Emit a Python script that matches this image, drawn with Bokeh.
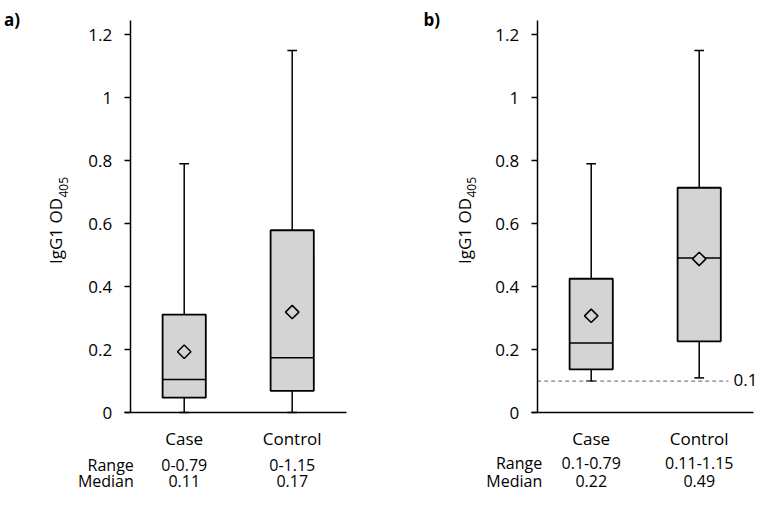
import math
from bokeh.plotting import figure
from bokeh.models import LinearAxis, FixedTicker, Range1d
from bokeh.core.properties import value
from bokeh.embed import file_html
from bokeh.resources import INLINE

# ---------------- data ----------------
categories = ["Case", "Control"]
y_ticks = [0, 0.2, 0.4, 0.6, 0.8, 1.0, 1.2]
y_tick_labels = ["0", "0.2", "0.4", "0.6", "0.8", "1", "1.2"]
row_names = ["Range", "Median"]

# panel a)
a_min = [0.0, 0.0]
a_q1 = [0.047, 0.069]
a_median = [0.105, 0.174]
a_q3 = [0.311, 0.579]
a_max = [0.79, 1.15]
a_mean = [0.193, 0.319]
a_range_text = ["0-0.79", "0-1.15"]
a_median_text = ["0.11", "0.17"]

# panel b)
b_min = [0.10, 0.11]
b_q1 = [0.137, 0.226]
b_median = [0.221, 0.491]
b_q3 = [0.425, 0.714]
b_max = [0.79, 1.15]
b_mean = [0.307, 0.488]
b_range_text = ["0.1-0.79", "0.11-1.15"]
b_median_text = ["0.22", "0.49"]
threshold = 0.1
threshold_label = "0.1"

y_label_main = "IgG1 OD"
y_label_sub = "405"

# ---------------- layout ----------------
W, H = 759, 492
UNIT = 108.0          # px per category slot
AXIS_A = 129.7        # px of panel a y-axis
AXIS_B = 536.7        # px of panel b y-axis
Y0 = 412.0            # px of value 0
YPX = 314.75          # px per unit value

def xd(px):
    return (px - AXIS_A) / UNIT

def yd(py):
    return (Y0 - py) / YPX

OFF_A = 0.0
OFF_B = xd(AXIS_B)

FONT = "Open Sans"
FS = "17px"
ROW_FS = "16px"
GRAY = "#d4d4d4"
BOX_W = 0.4
CAP = 0.045

p = figure(width=W, height=H,
           x_range=Range1d(xd(0), xd(W)),
           y_range=Range1d(yd(H), yd(0)),
           x_axis_type=None, y_axis_type=None,
           output_backend="svg", toolbar_location=None,
           min_border=0, outline_line_color=None)
p.background_fill_color = "white"
p.border_fill_color = "white"


def txt(x, y, t, align="left", size=FS, angle=0.0, style="normal"):
    p.text(x=x, y=y, text=t, angle=angle,
           text_align=align, text_baseline="middle",
           text_font=value(FONT), text_font_size=size, text_font_style=style,
           text_color="black")


def panel(off, mins, q1, med, q3, maxs, means, rng_txt, med_txt,
          row_right_px, range_c, median_c, ylab_x, ysub_x, letter, letter_x):
    xs = [off + i + 0.5 for i in range(len(categories))]
    # whiskers
    p.segment(x0=xs, y0=q3, x1=xs, y1=maxs, line_color="black", line_width=1.5)
    p.segment(x0=xs, y0=mins, x1=xs, y1=q1, line_color="black", line_width=1.5)
    p.segment(x0=[x - CAP for x in xs], y0=maxs, x1=[x + CAP for x in xs], y1=maxs,
              line_color="black", line_width=1.5)
    p.segment(x0=[x - CAP for x in xs], y0=mins, x1=[x + CAP for x in xs], y1=mins,
              line_color="black", line_width=1.5)
    # boxes
    p.vbar(x=xs, width=BOX_W, bottom=q1, top=q3, fill_color=GRAY,
           line_color="black", line_width=1.8)
    # median
    p.segment(x0=[x - BOX_W / 2 for x in xs], y0=med, x1=[x + BOX_W / 2 for x in xs], y1=med,
              line_color="black", line_width=1.5)
    # mean
    p.scatter(x=xs, y=means, marker="square", angle=math.pi / 4, size=9.5,
              fill_color=GRAY, line_color="black", line_width=1.5)

    # y axis
    yax = LinearAxis(fixed_location=off, bounds=(0, yd(20)),
                     ticker=FixedTicker(ticks=y_ticks),
                     major_label_overrides=dict(zip(y_ticks, y_tick_labels)),
                     major_tick_in=0, major_tick_out=6,
                     minor_tick_line_color=None,
                     major_label_standoff=12,
                     axis_line_width=1.5, major_tick_line_width=1.5,
                     axis_line_color="black", major_tick_line_color="black",
                     major_label_text_font=FONT, major_label_text_font_size=FS,
                     major_label_text_color="black")
    p.add_layout(yax, "left")

    # x axis
    xax = LinearAxis(fixed_location=0, bounds=(off - 0.055, off + 2.0),
                     ticker=FixedTicker(ticks=xs),
                     major_label_overrides=dict(zip(xs, categories)),
                     major_tick_line_color=None, major_tick_in=0, major_tick_out=0,
                     minor_tick_line_color=None,
                     major_label_standoff=14,
                     axis_line_width=1.5, axis_line_color="black",
                     major_label_text_font=FONT, major_label_text_font_size=FS,
                     major_label_text_color="black")
    p.add_layout(xax, "below")

    # summary rows
    txt([xd(row_right_px)] * 2, [yd(range_c), yd(median_c)], row_names,
        align="right", size=ROW_FS)
    txt(xs, [yd(range_c)] * 2, rng_txt, align="center", size=ROW_FS)
    txt(xs, [yd(median_c)] * 2, med_txt, align="center", size=ROW_FS)

    # y label with subscript (rotated)
    txt([xd(ylab_x)], [yd(263.5)], [y_label_main], angle=math.pi / 2)
    txt([xd(ysub_x)], [yd(197.0)], [y_label_sub], size="12px", angle=math.pi / 2)

    # panel letter
    txt([xd(letter_x)], [yd(19.0)], [letter], style="bold")
    return xs


panel(OFF_A, a_min, a_q1, a_median, a_q3, a_max, a_mean, a_range_text, a_median_text,
      133.3, 464.5, 480.0, 55.0, 62.5, "a)", 3.5)
panel(OFF_B, b_min, b_q1, b_median, b_q3, b_max, b_mean, b_range_text, b_median_text,
      541.7, 462.0, 480.0, 464.3, 470.8, "b)", 423.0)

# threshold line (panel b)
p.segment(x0=[OFF_B], y0=[threshold], x1=[OFF_B + (728 - AXIS_B) / UNIT], y1=[threshold],
          line_color="#808080", line_width=1.2, line_dash="4 3")
txt([xd(733)], [yd(379.5)], [threshold_label])

open("out.html", "w").write(file_html(p, INLINE))
